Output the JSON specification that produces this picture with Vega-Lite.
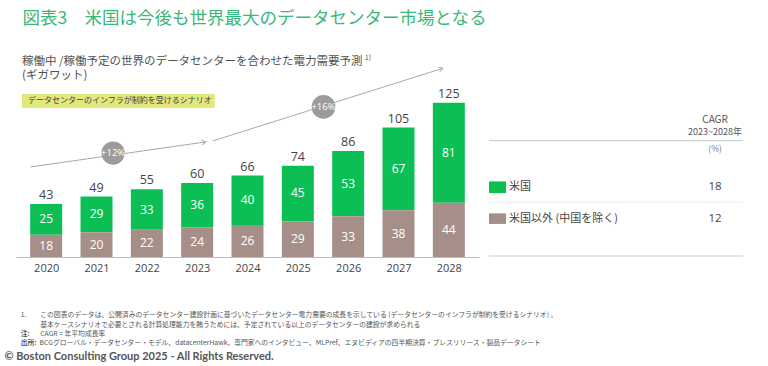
{
  "$schema": "https://vega.github.io/schema/vega-lite/v6.json",
  "background": "white",
  "padding": {"left": 4, "top": 9, "right": 4, "bottom": 4},
  "title": {
    "text": "図表3　米国は今後も世界最大のデータセンター市場となる",
    "anchor": "start", "dx": 18, "offset": 8,
    "font": "Noto Sans CJK JP", "fontSize": 17.5, "fontWeight": "normal", "color": "#3bb77a"
  },
  "config": {"view": {"stroke": null}, "font": "Noto Sans CJK JP"},
  "datasets": {
    "power": [
      {"year": 2020, "region": "米国", "value": 25}, {"year": 2020, "region": "米国以外 (中国を除く)", "value": 18},
      {"year": 2021, "region": "米国", "value": 29}, {"year": 2021, "region": "米国以外 (中国を除く)", "value": 20},
      {"year": 2022, "region": "米国", "value": 33}, {"year": 2022, "region": "米国以外 (中国を除く)", "value": 22},
      {"year": 2023, "region": "米国", "value": 36}, {"year": 2023, "region": "米国以外 (中国を除く)", "value": 24},
      {"year": 2024, "region": "米国", "value": 40}, {"year": 2024, "region": "米国以外 (中国を除く)", "value": 26},
      {"year": 2025, "region": "米国", "value": 45}, {"year": 2025, "region": "米国以外 (中国を除く)", "value": 29},
      {"year": 2026, "region": "米国", "value": 53}, {"year": 2026, "region": "米国以外 (中国を除く)", "value": 33},
      {"year": 2027, "region": "米国", "value": 67}, {"year": 2027, "region": "米国以外 (中国を除く)", "value": 38},
      {"year": 2028, "region": "米国", "value": 81}, {"year": 2028, "region": "米国以外 (中国を除く)", "value": 44}
    ],
    "cagr": [
      {"region": "米国", "cagr": 18},
      {"region": "米国以外 (中国を除く)", "cagr": 12}
    ]
  },
  "bounds": "flush",
  "spacing": 10,
  "hconcat": [
    {
      "width": 463, "height": 222,
      "data": {"name": "power"},
      "transform": [
        {"stack": "value", "groupby": ["year"], "sort": [{"field": "region", "order": "descending"}], "as": ["v0", "v1"]},
        {"calculate": "(datum.v0 + datum.v1) / 2", "as": "mid"}
      ],
      "resolve": {"axis": {"x": "independent", "y": "independent"}},
      "layer": [
        {
          "mark": {"type": "bar", "width": 32},
          "encoding": {
            "x": {"field": "year", "type": "quantitative",
              "scale": {"domain": [2019.5, 2028.5], "nice": false, "zero": false},
              "axis": {"values": [2020, 2021, 2022, 2023, 2024, 2025, 2026, 2027, 2028], "format": "d", "title": null, "grid": false, "ticks": false, "domain": true, "domainColor": "#bdbdbd", "domainWidth": 1, "labelFontSize": 11, "labelColor": "#444444", "labelFont": "Open Sans", "labelPadding": 5, "labelFlush": false, "labelOverlap": false}},
            "y": {"field": "v1", "type": "quantitative", "scale": {"domain": [0, 180], "nice": false}, "axis": null},
            "y2": {"field": "v0"},
            "color": {"field": "region", "type": "nominal", "scale": {"domain": ["米国", "米国以外 (中国を除く)"], "range": ["#0bbf55", "#a68f89"]}, "legend": null}
          }
        },
        {
          "mark": {"type": "text", "color": "white", "fontSize": 12, "font": "Open Sans", "baseline": "middle"},
          "encoding": {
            "x": {"field": "year", "type": "quantitative", "axis": null},
            "y": {"field": "mid", "type": "quantitative", "axis": null},
            "text": {"field": "value"}
          }
        },
        {
          "transform": [{"aggregate": [{"op": "max", "field": "v1", "as": "total"}], "groupby": ["year"]}],
          "mark": {"type": "text", "color": "#444444", "fontSize": 12.5, "font": "Open Sans", "baseline": "middle", "dy": -9},
          "encoding": {
            "x": {"field": "year", "type": "quantitative", "axis": null},
            "y": {"field": "total", "type": "quantitative", "axis": null},
            "text": {"field": "total"}
          }
        },
        {
          "data": {"values": [{"t": "稼働中 /稼働予定の世界のデータセンターを合わせた電力需要予測"}]},
          "mark": {"type": "text", "align": "left", "baseline": "middle", "fontSize": 11.5, "color": "#505050"},
          "encoding": {"x": {"datum": 2019.52, "type": "quantitative", "axis": null}, "y": {"datum": 158.4, "type": "quantitative", "axis": null}, "text": {"field": "t"}}
        },
        {
          "data": {"values": [{"t": "1)"}]},
          "mark": {"type": "text", "align": "left", "baseline": "middle", "fontSize": 7, "color": "#505050"},
          "encoding": {"x": {"datum": 2026.33, "type": "quantitative", "axis": null}, "y": {"datum": 161.4, "type": "quantitative", "axis": null}, "text": {"field": "t"}}
        },
        {
          "data": {"values": [{"t": "(ギガワット)"}]},
          "mark": {"type": "text", "align": "left", "baseline": "middle", "fontSize": 11.5, "color": "#505050"},
          "encoding": {"x": {"datum": 2019.52, "type": "quantitative", "axis": null}, "y": {"datum": 146.6, "type": "quantitative", "axis": null}, "text": {"field": "t"}}
        },
        {
          "data": {"values": [{}]},
          "mark": {"type": "rect", "color": "#e2e87c"},
          "encoding": {"x": {"datum": 2019.52, "type": "quantitative", "axis": null}, "x2": {"datum": 2023.35}, "y": {"datum": 132.2, "type": "quantitative", "axis": null}, "y2": {"datum": 120.8}}
        },
        {
          "data": {"values": [{"t": "データセンターのインフラが制約を受けるシナリオ"}]},
          "mark": {"type": "text", "align": "left", "baseline": "middle", "fontSize": 8, "color": "#444444"},
          "encoding": {"x": {"datum": 2019.64, "type": "quantitative", "axis": null}, "y": {"datum": 126.5, "type": "quantitative", "axis": null}, "text": {"field": "t"}}
        },
        {
          "data": {"values": [{}]},
          "mark": {"type": "rule", "color": "#a8a8a8", "strokeWidth": 1},
          "encoding": {"x": {"datum": 2019.69, "type": "quantitative", "axis": null}, "x2": {"datum": 2023.17}, "y": {"datum": 73.0, "type": "quantitative", "axis": null}, "y2": {"datum": 93.3}}
        },
        {
          "data": {"values": [{}]},
          "mark": {"type": "point", "shape": "M -1 -0.6 L 0 0 L -1 0.6", "filled": false, "stroke": "#a8a8a8", "strokeWidth": 1, "size": 64, "angle": 352, "opacity": 1},
          "encoding": {"x": {"datum": 2023.17, "type": "quantitative", "axis": null}, "y": {"datum": 93.3, "type": "quantitative", "axis": null}}
        },
        {
          "data": {"values": [{}]},
          "mark": {"type": "rule", "color": "#a8a8a8", "strokeWidth": 1},
          "encoding": {"x": {"datum": 2023.31, "type": "quantitative", "axis": null}, "x2": {"datum": 2027.88}, "y": {"datum": 94.1, "type": "quantitative", "axis": null}, "y2": {"datum": 153.0}}
        },
        {
          "data": {"values": [{}]},
          "mark": {"type": "point", "shape": "M -1 -0.6 L 0 0 L -1 0.6", "filled": false, "stroke": "#a8a8a8", "strokeWidth": 1, "size": 64, "angle": 343, "opacity": 1},
          "encoding": {"x": {"datum": 2027.88, "type": "quantitative", "axis": null}, "y": {"datum": 153.0, "type": "quantitative", "axis": null}}
        },
        {
          "data": {"values": [{"t": "+12%"}]},
          "layer": [
            {"mark": {"type": "circle", "size": 540, "color": "#9b9b9b", "opacity": 1},
             "encoding": {"x": {"datum": 2021.33, "type": "quantitative", "axis": null}, "y": {"datum": 84.3, "type": "quantitative", "axis": null}}},
            {"mark": {"type": "text", "color": "white", "fontSize": 9.5, "font": "Open Sans", "baseline": "middle"},
             "encoding": {"x": {"datum": 2021.33, "type": "quantitative", "axis": null}, "y": {"datum": 84.3, "type": "quantitative", "axis": null}, "text": {"field": "t"}}}
          ]
        },
        {
          "data": {"values": [{"t": "+16%"}]},
          "layer": [
            {"mark": {"type": "circle", "size": 560, "color": "#9b9b9b", "opacity": 1},
             "encoding": {"x": {"datum": 2025.51, "type": "quantitative", "axis": null}, "y": {"datum": 121.7, "type": "quantitative", "axis": null}}},
            {"mark": {"type": "text", "color": "white", "fontSize": 9.5, "font": "Open Sans", "baseline": "middle"},
             "encoding": {"x": {"datum": 2025.51, "type": "quantitative", "axis": null}, "y": {"datum": 121.7, "type": "quantitative", "axis": null}, "text": {"field": "t"}}}
          ]
        },
        {
          "data": {"values": [{"t": "1."}]},
          "mark": {"type": "text", "align": "left", "baseline": "middle", "fontSize": 6.8, "color": "#555555"},
          "encoding": {"x": {"datum": 2019.494, "type": "quantitative", "axis": null}, "y": {"datum": -47.0, "type": "quantitative", "axis": null}, "text": {"field": "t"}}
        },
        {
          "data": {"values": [{"t": "この図表のデータは、公開済みのデータセンター建設計画に基づいたデータセンター電力需要の成長を示している (データセンターのインフラが制約を受けるシナリオ) 。"}]},
          "mark": {"type": "text", "align": "left", "baseline": "middle", "fontSize": 6.8, "color": "#555555"},
          "encoding": {"x": {"datum": 2019.883, "type": "quantitative", "axis": null}, "y": {"datum": -47.0, "type": "quantitative", "axis": null}, "text": {"field": "t"}}
        },
        {
          "data": {"values": [{"t": "基本ケースシナリオで必要とされる計算処理能力を賄うためには、予定されている以上のデータセンターの建設が求められる"}]},
          "mark": {"type": "text", "align": "left", "baseline": "middle", "fontSize": 6.8, "color": "#555555"},
          "encoding": {"x": {"datum": 2019.883, "type": "quantitative", "axis": null}, "y": {"datum": -55.2, "type": "quantitative", "axis": null}, "text": {"field": "t"}}
        },
        {
          "data": {"values": [{"t": "注:"}]},
          "mark": {"type": "text", "align": "left", "baseline": "middle", "fontSize": 6.8, "fontWeight": "bold", "color": "#555555"},
          "encoding": {"x": {"datum": 2019.494, "type": "quantitative", "axis": null}, "y": {"datum": -62.6, "type": "quantitative", "axis": null}, "text": {"field": "t"}}
        },
        {
          "data": {"values": [{"t": "CAGR = 年平均成長率"}]},
          "mark": {"type": "text", "align": "left", "baseline": "middle", "fontSize": 6.8, "color": "#555555"},
          "encoding": {"x": {"datum": 2019.883, "type": "quantitative", "axis": null}, "y": {"datum": -62.6, "type": "quantitative", "axis": null}, "text": {"field": "t"}}
        },
        {
          "data": {"values": [{"t": "出所:"}]},
          "mark": {"type": "text", "align": "left", "baseline": "middle", "fontSize": 6.8, "fontWeight": "bold", "color": "#555555"},
          "encoding": {"x": {"datum": 2019.494, "type": "quantitative", "axis": null}, "y": {"datum": -69.6, "type": "quantitative", "axis": null}, "text": {"field": "t"}}
        },
        {
          "data": {"values": [{"t": "BCGグローバル・データセンター・モデル、datacenterHawk、専門家へのインタビュー、MLPref、エヌビディアの四半期決算・プレスリリース・製品データシート"}]},
          "mark": {"type": "text", "align": "left", "baseline": "middle", "fontSize": 6.8, "color": "#555555"},
          "encoding": {"x": {"datum": 2019.87, "type": "quantitative", "axis": null}, "y": {"datum": -69.6, "type": "quantitative", "axis": null}, "text": {"field": "t"}}
        },
        {
          "data": {"values": [{"t": "© Boston Consulting Group 2025 - All Rights Reserved."}]},
          "mark": {"type": "text", "align": "left", "baseline": "middle", "fontSize": 11, "fontWeight": "bold", "font": "Lato", "color": "#555555"},
          "encoding": {"x": {"datum": 2019.17, "type": "quantitative", "axis": null}, "y": {"datum": -80.9, "type": "quantitative", "axis": null}, "text": {"field": "t"}}
        }
      ]
    },
    {
      "width": 254, "height": 222,
      "layer": [
        {
          "data": {"values": [{"t": "CAGR"}]},
          "mark": {"type": "text", "baseline": "middle", "fontSize": 10, "color": "#555555"},
          "encoding": {"x": {"datum": 89, "type": "quantitative", "scale": {"domain": [0, 100], "nice": false, "zero": false}, "axis": null}, "y": {"datum": 111.2, "type": "quantitative", "scale": {"domain": [0, 180], "nice": false}, "axis": null}, "text": {"field": "t"}}
        },
        {
          "data": {"values": [{"t": "2023~2028年"}]},
          "mark": {"type": "text", "baseline": "middle", "fontSize": 9, "color": "#555555"},
          "encoding": {"x": {"datum": 89, "type": "quantitative", "axis": null}, "y": {"datum": 101.2, "type": "quantitative", "axis": null}, "text": {"field": "t"}}
        },
        {
          "data": {"values": [{}]},
          "mark": {"type": "rule", "color": "#c8c8c8", "strokeWidth": 1},
          "encoding": {"x": {"datum": 0, "type": "quantitative", "axis": null}, "x2": {"datum": 100}, "y": {"datum": 94.3, "type": "quantitative", "axis": null}}
        },
        {
          "data": {"values": [{"t": "(%)"}]},
          "mark": {"type": "text", "baseline": "middle", "fontSize": 8.5, "color": "#777777"},
          "encoding": {"x": {"datum": 89, "type": "quantitative", "axis": null}, "y": {"datum": 87.3, "type": "quantitative", "axis": null}, "text": {"field": "t"}}
        },
        {
          "data": {"values": [{}]},
          "mark": {"type": "rule", "color": "#ececec", "strokeWidth": 1},
          "encoding": {"x": {"datum": 0, "type": "quantitative", "axis": null}, "x2": {"datum": 100}, "y": {"datum": 44.6, "type": "quantitative", "axis": null}}
        },
        {
          "data": {"values": [{}]},
          "mark": {"type": "rule", "color": "#c8c8c8", "strokeWidth": 1},
          "encoding": {"x": {"datum": 0, "type": "quantitative", "axis": null}, "x2": {"datum": 100}, "y": {"datum": 0.8, "type": "quantitative", "axis": null}}
        },
        {
          "data": {"name": "cagr"},
          "transform": [{"filter": "datum.region === '米国'"}],
          "layer": [
            {"mark": {"type": "rect"},
             "encoding": {"x": {"datum": 0, "type": "quantitative", "axis": null}, "x2": {"datum": 6.7}, "y": {"datum": 61.3, "type": "quantitative", "axis": null}, "y2": {"datum": 51.9},
               "color": {"field": "region", "type": "nominal", "scale": {"domain": ["米国", "米国以外 (中国を除く)"], "range": ["#0bbf55", "#a68f89"]}, "legend": null}}},
            {"mark": {"type": "text", "align": "left", "baseline": "middle", "fontSize": 11, "color": "#444444"},
             "encoding": {"x": {"datum": 7.9, "type": "quantitative", "axis": null}, "y": {"datum": 56.8, "type": "quantitative", "axis": null}, "text": {"field": "region"}}},
            {"mark": {"type": "text", "baseline": "middle", "fontSize": 11.5, "font": "Open Sans", "color": "#444444"},
             "encoding": {"x": {"datum": 89, "type": "quantitative", "axis": null}, "y": {"datum": 56.8, "type": "quantitative", "axis": null}, "text": {"field": "cagr"}}}
          ]
        },
        {
          "data": {"name": "cagr"},
          "transform": [{"filter": "datum.region !== '米国'"}],
          "layer": [
            {"mark": {"type": "rect"},
             "encoding": {"x": {"datum": 0, "type": "quantitative", "axis": null}, "x2": {"datum": 6.7}, "y": {"datum": 35.4, "type": "quantitative", "axis": null}, "y2": {"datum": 26.8},
               "color": {"field": "region", "type": "nominal", "scale": {"domain": ["米国", "米国以外 (中国を除く)"], "range": ["#0bbf55", "#a68f89"]}, "legend": null}}},
            {"mark": {"type": "text", "align": "left", "baseline": "middle", "fontSize": 11, "color": "#444444"},
             "encoding": {"x": {"datum": 7.9, "type": "quantitative", "axis": null}, "y": {"datum": 31.1, "type": "quantitative", "axis": null}, "text": {"field": "region"}}},
            {"mark": {"type": "text", "baseline": "middle", "fontSize": 11.5, "font": "Open Sans", "color": "#444444"},
             "encoding": {"x": {"datum": 89, "type": "quantitative", "axis": null}, "y": {"datum": 31.1, "type": "quantitative", "axis": null}, "text": {"field": "cagr"}}}
          ]
        }
      ]
    }
  ]
}
